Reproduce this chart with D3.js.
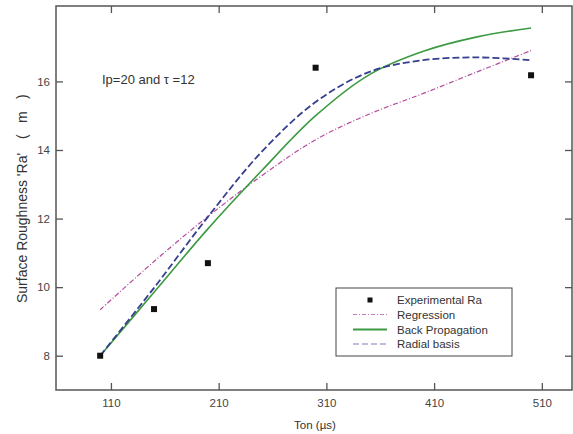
<!DOCTYPE html>
<html>
<head>
<meta charset="utf-8">
<script src="https://cdn.jsdelivr.net/npm/d3@7"></script>
<style>
  html, body { margin: 0; padding: 0; background: #fff; }
  svg text { font-family: "Liberation Sans", Arial, sans-serif; fill: #333; }
</style>
</head>
<body>
<svg id="chart" width="573" height="434"></svg>
<script>
// Pulse on-time values (µs) and measured surface roughness
const expTon = [100, 150, 200, 300, 500];
const expRa  = [8.0, 9.36, 10.70, 16.40, 16.18];

// Model predictions sampled along Ton
const modelTon       = [100, 150, 200, 250, 300, 350, 400, 450, 500];
const regressionRa   = [9.34, 10.75, 12.06, 13.25, 14.30, 15.05, 15.65, 16.28, 16.90];
const backPropRa     = [8.0, 9.85, 11.70, 13.40, 15.00, 16.20, 16.88, 17.30, 17.56];
const radialBasisRa  = [8.0, 9.98, 12.05, 13.95, 15.40, 16.28, 16.62, 16.70, 16.62];

const xTicks = [110, 210, 310, 410, 510];
const yTicks = [8, 10, 12, 14, 16];

const legendLabels = ["Experimental Ra", "Regression", "Back Propagation", "Radial basis"];

const svg = d3.select("#chart");
const plotL = 56, plotR = 572, plotT = 6, plotB = 390;

const x = d3.scaleLinear().domain([59, 538]).range([plotL, plotR]);
const y = d3.scaleLinear().domain([7, 18.2]).range([plotB, plotT]);

const axisColor = "#555";

// Frame
svg.append("rect")
  .attr("x", plotL).attr("y", plotT)
  .attr("width", plotR - plotL).attr("height", plotB - plotT)
  .attr("fill", "none").attr("stroke", axisColor).attr("stroke-width", 1.5);

// Inward ticks on all four sides
const tickLen = 7;
const gB = svg.append("g").attr("transform", `translate(0,${plotB})`)
  .call(d3.axisBottom(x).tickValues(xTicks).tickSizeInner(-tickLen).tickSizeOuter(0).tickPadding(9));
const gT = svg.append("g").attr("transform", `translate(0,${plotT})`)
  .call(d3.axisTop(x).tickValues(xTicks).tickSizeInner(-tickLen).tickSizeOuter(0).tickFormat(""));
const gL = svg.append("g").attr("transform", `translate(${plotL},0)`)
  .call(d3.axisLeft(y).tickValues(yTicks).tickSizeInner(-tickLen).tickSizeOuter(0).tickPadding(6));
const gR = svg.append("g").attr("transform", `translate(${plotR},0)`)
  .call(d3.axisRight(y).tickValues(yTicks).tickSizeInner(-tickLen).tickSizeOuter(0).tickFormat(""));

[gB, gT, gL, gR].forEach(g => {
  g.select(".domain").remove();
  g.selectAll(".tick line").attr("stroke", axisColor).attr("stroke-width", 1.3);
  g.selectAll(".tick text").attr("font-size", 11.5).style("fill", "#444")
    .attr("font-family", "Liberation Sans, Arial, sans-serif");
});

// Axis titles
svg.append("text")
  .attr("x", 315).attr("y", 429)
  .attr("text-anchor", "middle").attr("font-size", 11.5)
  .text("Ton (µs)");

const yTitle = svg.append("text")
  .attr("transform", "translate(27,303) rotate(-90)")
  .attr("font-size", 14);
yTitle.append("tspan").attr("x", 0).text("Surface Roughness 'Ra'");
yTitle.append("tspan").attr("x", 164).text("(");
yTitle.append("tspan").attr("x", 180).text("m");
yTitle.append("tspan").attr("x", 204).text(")");

// Annotation
svg.append("text")
  .attr("x", 102).attr("y", 84)
  .attr("font-size", 13)
  .text("Ip=20 and \u03C4 =12");

// Model curves
const line = d3.line().curve(d3.curveCatmullRom.alpha(0.5));
const series = [
  { vals: regressionRa, color: "#b44a9c", width: 1.2, dash: "5,2,1,2" },
  { vals: backPropRa, color: "#3c9a42", width: 1.6, dash: null },
  { vals: radialBasisRa, color: "#363f8e", width: 1.8, dash: "7,3" }
];
series.forEach(s => {
  const pts = modelTon.map((t, i) => [x(t), y(s.vals[i])]);
  const p = svg.append("path")
    .attr("d", line(pts))
    .attr("fill", "none")
    .attr("stroke", s.color)
    .attr("stroke-width", s.width);
  if (s.dash) p.attr("stroke-dasharray", s.dash);
});

// Experimental points
svg.selectAll("rect.exp")
  .data(expTon.map((t, i) => [t, expRa[i]]))
  .enter().append("rect")
  .attr("class", "exp")
  .attr("x", d => x(d[0]) - 3).attr("y", d => y(d[1]) - 3)
  .attr("width", 6).attr("height", 6)
  .attr("fill", "#111");

// Legend
const lg = svg.append("g");
lg.append("rect")
  .attr("x", 336).attr("y", 288).attr("width", 176).attr("height", 68)
  .attr("fill", "#fff").attr("stroke", "#444").attr("stroke-width", 1);
const rowY = [300, 314.5, 329.5, 344];
lg.append("rect").attr("x", 367.5).attr("y", rowY[0] - 2.5).attr("width", 5).attr("height", 5).attr("fill", "#111");
const legLines = [
  { color: "#c77cc0", width: 1, dash: "4,2,1,2" },
  { color: "#3c9a42", width: 2.2, dash: null },
  { color: "#7d7fb8", width: 1.2, dash: "6,3" }
];
legLines.forEach((s, i) => {
  const l = lg.append("line")
    .attr("x1", 353).attr("x2", 387)
    .attr("y1", rowY[i + 1]).attr("y2", rowY[i + 1])
    .attr("stroke", s.color).attr("stroke-width", s.width);
  if (s.dash) l.attr("stroke-dasharray", s.dash);
});
legendLabels.forEach((t, i) => {
  lg.append("text")
    .attr("x", 397).attr("y", rowY[i] + 4)
    .attr("font-size", 11.5)
    .text(t);
});
</script>
</body>
</html>
